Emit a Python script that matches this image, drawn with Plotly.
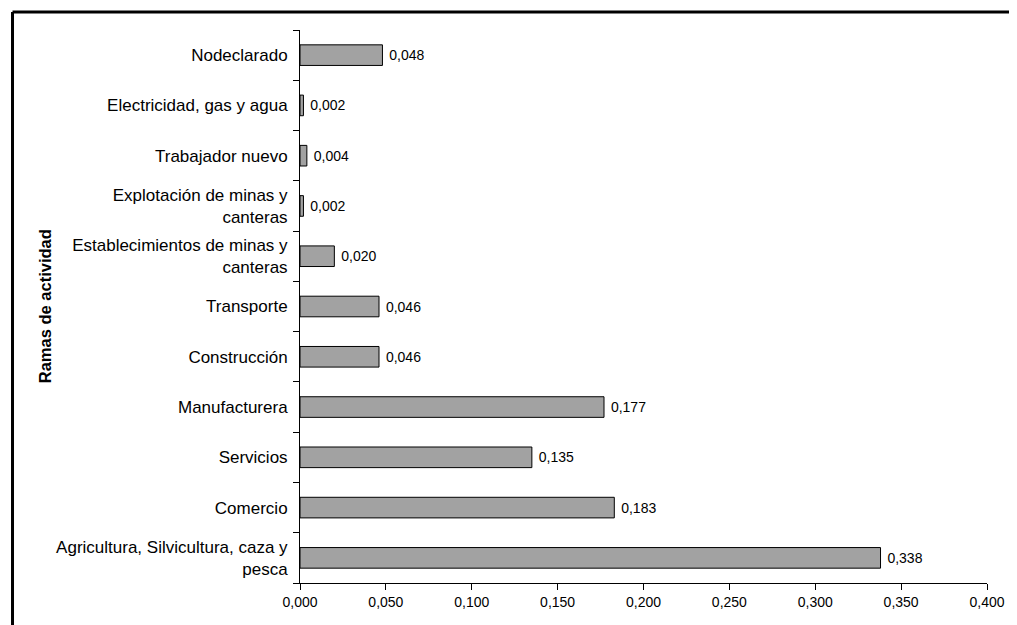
import plotly.graph_objects as go

categories = [
    "Agricultura, Silvicultura, caza y<br>pesca",
    "Comercio",
    "Servicios",
    "Manufacturera",
    "Construcción",
    "Transporte",
    "Establecimientos de minas y<br>canteras",
    "Explotación de minas y<br>canteras",
    "Trabajador nuevo",
    "Electricidad, gas y agua",
    "Nodeclarado",
]
values = [0.338, 0.183, 0.135, 0.177, 0.046, 0.046, 0.020, 0.002, 0.004, 0.002, 0.048]
x_ticks = [0, 0.05, 0.1, 0.15, 0.2, 0.25, 0.3, 0.35, 0.4]

# page body has an 8px default margin, so the figure is sized/offset to compensate
OFF = 8
W, H = 1017 - OFF, 625 - OFF
L, R, T, B = 300 - OFF, 24, 30 - OFF, 42
pw, ph = W - L - R, H - T - B

fig = go.Figure(go.Bar(
    x=values, y=categories, orientation="h",
    marker=dict(color="#a2a2a2", line=dict(color="black", width=1)),
    texttemplate=" %{x:.3f}", textposition="outside",
    textfont=dict(family="Liberation Sans, Arial", size=14, color="black"),
    cliponaxis=False, width=0.41,
))

fig.update_layout(
    width=W, height=H,
    margin=dict(l=L, r=R, t=T, b=B),
    paper_bgcolor="white", plot_bgcolor="white",
    separators=",.",
    showlegend=False,
    font=dict(family="Liberation Sans, Arial", color="black"),
)
fig.update_xaxes(
    range=[0, 0.4], tickvals=x_ticks, tickformat=".3f",
    showgrid=False, zeroline=False,
    showline=True, linecolor="black", linewidth=1,
    ticks="outside", ticklen=6, tickcolor="black",
    tickfont=dict(size=14), fixedrange=True,
)
fig.update_yaxes(
    type="category", categoryorder="array", categoryarray=categories,
    showgrid=False, showline=True, linecolor="black", linewidth=1,
    ticks="outside", ticklen=6, tickcolor="black", tickson="boundaries",
    ticklabelstandoff=8,
    tickfont=dict(size=17), fixedrange=True,
)

# outer frame (cropped at right and bottom)
fx = (10 - OFF - L) / pw
fy = 1 + (T - (12 - OFF)) / ph
fig.add_shape(type="line", xref="paper", yref="paper", x0=fx, x1=fx, y0=-0.2, y1=fy,
              line=dict(color="black", width=3))
fig.add_shape(type="line", xref="paper", yref="paper", x0=fx, x1=1.2, y0=fy, y1=fy,
              line=dict(color="black", width=3))

fig.add_annotation(
    text="<b>Ramas de actividad</b>", textangle=-90,
    xref="paper", yref="paper", x=(43 - OFF - L) / pw, y=1 - (306 - 30) / ph,
    showarrow=False, font=dict(size=16.5, color="black"),
    xanchor="center", yanchor="middle",
)

fig.write_html("out.html")
